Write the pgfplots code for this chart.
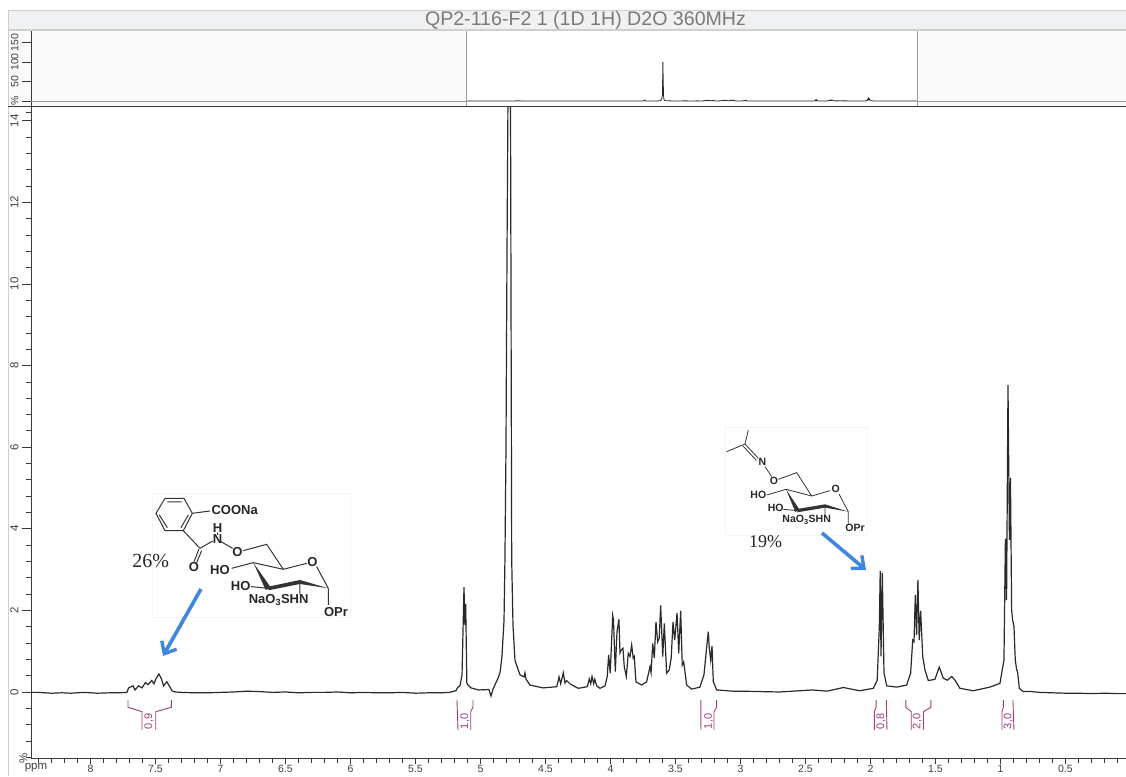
\documentclass[border=0pt]{standalone}
\usepackage{fontspec}
\setmainfont{Liberation Sans}
\newfontfamily\serifperc{Liberation Serif}
\usepackage{pgfplots}
\usepackage{pgfplotstable}
\pgfplotsset{compat=1.18}
\usetikzlibrary{arrows.meta}
\definecolor{trace}{HTML}{2A2A2A}
\definecolor{axisc}{HTML}{3A3A3A}
\definecolor{integ}{HTML}{A33C74}
\definecolor{framec}{HTML}{CFCFCF}
\definecolor{barc}{HTML}{F0F1F2}
\definecolor{ovbg}{HTML}{FAFAFA}
\definecolor{ovline}{HTML}{9A9A9A}
\definecolor{titlec}{HTML}{7A7A7A}
\definecolor{bluea}{HTML}{3F86E0}
\pgfplotstableread{
ppm val
8.458 -0.01
8.40 -0.01
8.30 -0.03
8.22 -0.02
8.15 -0.03
8.05 -0.01
7.95 -0.03
7.85 -0.02
7.78 -0.02
7.72 -0.01
7.707 0.10
7.673 0.15
7.658 0.05
7.63 0.15
7.604 0.10
7.578 0.23
7.558 0.18
7.529 0.28
7.512 0.20
7.497 0.32
7.474 0.44
7.454 0.32
7.438 0.15
7.413 0.25
7.394 0.15
7.373 0.03
7.35 0.0
7.30 -0.01
7.2 -0.02
7.1 -0.02
7.0 -0.01
6.9 0.0
6.8 0.02
6.7 0.01
6.6 -0.01
6.5 0
6.4 -0.02
6.3 -0.01
6.2 -0.01
6.1 0
6.0 -0.02
5.9 -0.01
5.8 -0.02
5.7 -0.02
5.6 -0.01
5.5 -0.03
5.4 -0.02
5.3 -0.02
5.24 -0.01
5.19 0.03
5.173 0.12
5.158 0.15
5.142 0.42
5.127 2.57
5.12 1.64
5.114 2.16
5.105 0.22
5.096 0.17
5.073 0.10
5.015 0.05
4.935 0.06
4.919 -0.10
4.904 0.07
4.865 0.34
4.85 0.47
4.835 0.86
4.819 1.76
4.812 3.24
4.804 5.93
4.796 10.8
4.789 14.3
4.781 100
4.769 14.3
4.76 3.24
4.75 1.64
4.735 0.78
4.696 0.42
4.665 0.37
4.658 0.47
4.65 0.32
4.62 0.17
4.519 0.10
4.413 0.13
4.396 0.37
4.383 0.20
4.363 0.47
4.35 0.22
4.337 0.28
4.312 0.20
4.248 0.09
4.178 0.13
4.163 0.32
4.152 0.20
4.142 0.38
4.129 0.20
4.121 0.31
4.106 0.15
4.081 0.09
4.042 0.15
4.025 0.38
4.014 0.91
4.002 0.46
3.983 1.87
3.977 1.76
3.963 0.50
3.95 1.48
3.935 1.78
3.927 0.96
3.917 1.03
3.904 1.07
3.894 0.62
3.878 0.38
3.863 0.95
3.85 0.87
3.837 1.15
3.825 0.83
3.817 0.87
3.804 0.25
3.76 0.17
3.722 0.25
3.696 0.62
3.688 0.47
3.675 1.19
3.663 0.83
3.65 1.72
3.637 1.23
3.625 1.32
3.614 2.12
3.598 0.87
3.586 1.68
3.568 0.46
3.548 0.54
3.533 0.83
3.519 1.72
3.506 1.27
3.488 1.94
3.475 0.95
3.46 1.99
3.448 0.66
3.437 0.74
3.414 0.17
3.375 0.07
3.312 0.12
3.281 0.42
3.248 1.48
3.24 1.08
3.229 0.78
3.219 1.13
3.209 0.25
3.183 0.05
3.058 0.02
3.0 0.02
2.85 0.01
2.7 0.0
2.445 0.05
2.335 0.02
2.208 0.11
2.084 0.03
1.978 0.09
1.948 0.29
1.932 1.60
1.925 2.96
1.919 0.87
1.909 2.92
1.896 0.47
1.875 0.15
1.798 0.12
1.722 0.17
1.691 0.46
1.675 1.27
1.665 1.23
1.655 2.38
1.645 1.40
1.635 2.75
1.625 1.27
1.614 1.99
1.598 0.87
1.581 0.54
1.555 0.28
1.504 0.31
1.471 0.61
1.44 0.34
1.409 0.29
1.375 0.38
1.35 0.29
1.312 0.09
1.209 0.03
1.081 0.12
1.004 0.21
0.973 0.78
0.962 3.75
0.953 2.25
0.942 7.52
0.931 3.73
0.923 5.25
0.914 2.0
0.906 1.76
0.896 1.60
0.886 0.78
0.875 0.54
0.868 0.49
0.855 0.09
0.825 0.01
0.76 0.01
0.7 -0.01
0.6 -0.02
0.5 -0.03
0.4 -0.03
0.3 -0.04
0.2 -0.03
0.1 -0.04
0.035 -0.04
}\spectrum
\pgfplotsset{
  nmr/.style={
    scale only axis,
    axis line style={color=axisc,line width=0.9pt},
    tick style={color=axisc,line width=0.8pt},
    tick align=outside,
    /pgf/number format/assume math mode=true,
    ticklabel style={font=\fontsize{11.5}{13}\selectfont,color=black!75},
  }
}
\begin{document}
\begin{tikzpicture}[x=1pt,y=1pt]
\path[use as bounding box,fill=white] (0,0) rectangle (1126,776);
\begin{scope}[shift={(0,776)},y=-1pt]
  \fill[ovbg] (8,30) rectangle (466,107);
  \fill[ovbg] (917,30) rectangle (1126,107);
  \fill[barc] (8,10) rectangle (1126,30);
  \draw[framec,line width=0.9pt] (8,776) -- (8,10) -- (1126,10);
  \draw[framec,line width=1.1pt] (8,30) -- (1126,30);
  \node[text=titlec,font=\fontsize{19.6}{22}\selectfont] at (585.5,20) {QP2-116-F2 1 (1D 1H) D2O 360MHz};
\end{scope}
% overview axis
\begin{axis}[nmr,at={(31pt,669pt)},anchor=south west,width=1095pt,height=76pt,
  x dir=reverse,xmin=-3.868,xmax=16.582,ymin=-15.38,ymax=179.5,
  axis x line=none,axis y line*=left,
  ytick={0,50,100,150},yticklabels={\%,50,100,150},
  major tick length=9pt,
  yticklabel style={rotate=90,anchor=south,font=\fontsize{10.5}{12}\selectfont},
  ]
\addplot[ovline,line width=0.8pt] coordinates {(16.582,0) (8.458,0)};
\addplot[ovline,line width=0.8pt] coordinates {(0.035,0) (-3.868,0)};
\addplot[trace,line width=0.8pt] table[x=ppm,y=val] {\spectrum};
\end{axis}
% main axis
\begin{axis}[nmr,at={(31pt,18pt)},anchor=south west,width=1095pt,height=651pt,
  x dir=reverse,xmin=0.0346,xmax=8.458,ymin=-1.618,ymax=14.338,
  axis x line*=bottom,axis y line*=left,
  xtick={0.5,1,...,8},
  xticklabels={0.5,1,1.5,2,2.5,3,3.5,4,4.5,5,5.5,6,6.5,7,7.5,8},
  minor xtick={0.1,0.2,0.3,0.4,0.6,0.7,0.8,0.9,1.1,1.2,1.3,1.4,1.6,1.7,1.8,1.9,2.1,2.2,2.3,2.4,2.6,2.7,2.8,2.9,3.1,3.2,3.3,3.4,3.6,3.7,3.8,3.9,4.1,4.2,4.3,4.4,4.6,4.7,4.8,4.9,5.1,5.2,5.3,5.4,5.6,5.7,5.8,5.9,6.1,6.2,6.3,6.4,6.6,6.7,6.8,6.9,7.1,7.2,7.3,7.4,7.6,7.7,7.8,7.9,8.1,8.2,8.3,8.4},
  ytick={0,2,...,14},
  minor ytick={-1.6,-1.2,-0.8,-0.4,0.4,0.8,1.2,1.6,2.4,2.8,3.2,3.6,4.4,4.8,5.2,5.6,6.4,6.8,7.2,7.6,8.4,8.8,9.2,9.6,10.4,10.8,11.2,11.6,12.4,12.8,13.2,13.6,14.2},
  extra y ticks={-1.618},extra y tick labels={\%},
  extra tick style={major tick length=0pt},
  major tick length=9pt,minor tick length=5pt,
  xtick style={/pgfplots/major tick length=6pt},
  xticklabel style={inner sep=0pt,outer sep=0pt,yshift=1.5pt,font=\fontsize{10.5}{10.5}\selectfont},
  yticklabel style={rotate=90,anchor=south,font=\fontsize{11.5}{13}\selectfont},
  ]
\addplot[trace,line width=1.2pt] table[x=ppm,y=val] {\spectrum};
% integrals
\addplot[integ,line width=0.9pt] coordinates {(7.712,-0.196) (7.712,-0.375) (7.604,-0.483) (7.604,-0.931)};
\addplot[integ,line width=0.9pt] coordinates {(7.378,-0.196) (7.378,-0.375) (7.498,-0.483) (7.498,-0.931)};
\addplot[integ,line width=0.9pt] coordinates {(5.181,-0.196) (5.173,-0.931)};
\addplot[integ,line width=0.9pt] coordinates {(5.058,-0.196) (5.058,-0.375) (5.075,-0.483) (5.075,-0.931)};
\addplot[integ,line width=0.9pt] coordinates {(3.305,-0.196) (3.304,-0.931)};
\addplot[integ,line width=0.9pt] coordinates {(3.183,-0.196) (3.183,-0.375) (3.204,-0.483) (3.204,-0.931)};
\addplot[integ,line width=0.9pt] coordinates {(1.956,-0.196) (1.956,-0.375) (1.97,-0.483) (1.97,-0.931)};
\addplot[integ,line width=0.9pt] coordinates {(1.878,-0.196) (1.873,-0.931)};
\addplot[integ,line width=0.9pt] coordinates {(1.728,-0.196) (1.728,-0.375) (1.686,-0.483) (1.686,-0.931)};
\addplot[integ,line width=0.9pt] coordinates {(1.535,-0.196) (1.535,-0.375) (1.592,-0.483) (1.592,-0.931)};
\addplot[integ,line width=0.9pt] coordinates {(0.978,-0.196) (0.978,-0.375) (0.988,-0.483) (0.988,-0.931)};
\addplot[integ,line width=0.9pt] coordinates {(0.904,-0.196) (0.896,-0.931)};
\foreach \p/\t in {7.55/{0,9},5.12/{1,0},3.245/{1,0},1.92/{0,8},1.64/{2,0},0.94/{3,0}}{
  \edef\tmp{\noexpand\node[rotate=90,text=integ,font=\noexpand\fontsize{11}{13}\noexpand\selectfont,inner sep=0pt] at (axis cs:\p,-0.72) {\t};}
  \tmp
}
\end{axis}
\begin{scope}[shift={(0,776)},y=-1pt]
  \draw[ovline,line width=0.8pt] (466,31) -- (466,107);
  \draw[ovline,line width=0.8pt] (917,31) -- (917,107);
  \draw[axisc,line width=1pt] (8,107) -- (1126,107);
  \node[font=\fontsize{11.5}{13}\selectfont,text=black!75] at (36,768) {ppm};
  \draw[black!4,fill=white] (152,493) rectangle (350,617);
  \draw[black!4,fill=white] (725,427) rectangle (867,535);
\end{scope}
% structure with the phthalate group
\begin{scope}[shift={(120pt,296pt)},x=0.3333pt,y=-0.3333pt,line width=1pt,black!80]
  \draw (135,55)--(192,55)--(217,100)--(190,152)--(135,152)--(108,100)--cycle;
  \draw (142,66)--(185,66) (205,105)--(183,143) (118,105)--(142,143);
  \draw (217,100)--(270,93) (190,152)--(240,205) (240,205)--(278,183) (293,158)--(293,165);
  \draw (237,207)--(222,245) (245,212)--(230,248);
  \draw (303,185)--(338,205) (370,212)--(440,193)--(490,268)--(560,250) (590,260)--(625,325);
  \draw (400,248)--(490,268) (335,265)--(400,248) (393,320)--(445,325) (540,305)--(540,342) (625,325)--(625,375);
  \fill (400,248)--(437,330)--(452,322)--cycle;
  \fill (445,320)--(540,300)--(540,312)--(445,331)--cycle;
  \fill (540,300)--(625,325)--(540,312)--cycle;
  \tikzset{every node/.style={inner sep=0pt,text=black!85,font=\bfseries\fontsize{13}{15}\selectfont}}
  \node at (344,90) {COONa};
  \node at (293,143) {H};
  \node at (293,178) {N};
  \node at (222,260) {O};
  \node at (352,215) {O};
  \node at (577,245) {O};
  \node at (300,270) {HO};
  \node at (362,317) {HO};
  \node at (476,360) {NaO\textsubscript{3}SHN};
  \node at (648,395) {OPr};
  \node[font=\serifperc\fontsize{20}{22}\selectfont] at (92,243) {26\%};
\end{scope}
% structure with the oxime group
\begin{scope}[shift={(715pt,356pt)},x=0.3333pt,y=-0.3333pt,line width=0.8pt,black!80]
  \draw (100,30)--(90,72)--(35,95);
  \draw (90,72)--(130,115) (84,78)--(124,121);
  \draw (150,140)--(170,170) (190,178)--(245,158)--(290,228)--(345,212) (372,222)--(400,275);
  \draw (213,208)--(290,228) (155,225)--(213,208) (205,268)--(247,272) (330,258)--(330,285) (400,275)--(400,312);
  \fill (213,208)--(241,276)--(253,268)--cycle;
  \fill (247,267)--(330,253)--(330,263)--(247,277)--cycle;
  \fill (330,253)--(400,275)--(330,263)--cycle;
  \tikzset{every node/.style={inner sep=0pt,text=black!85,font=\bfseries\fontsize{10.5}{12}\selectfont}}
  \node at (142,125) {N};
  \node at (177,182) {O};
  \node at (362,207) {O};
  \node at (130,225) {HO};
  \node at (182,265) {HO};
  \node at (275,300) {NaO\textsubscript{3}SHN};
  \node at (420,325) {OPr};
  \node[font=\serifperc\fontsize{18}{20}\selectfont] at (152,365) {19\%};
\end{scope}
% arrows
\begin{scope}[shift={(0,776)},y=-1pt]
  \draw[bluea,line width=3.6pt,-{Straight Barb[length=10pt,width=17pt,line width=3.4pt]}] (201,589) -- (163,656);
  \draw[bluea,line width=3.6pt,-{Straight Barb[length=10pt,width=17pt,line width=3.4pt]}] (822,533) -- (866,570);
\end{scope}
\end{tikzpicture}
\end{document}
